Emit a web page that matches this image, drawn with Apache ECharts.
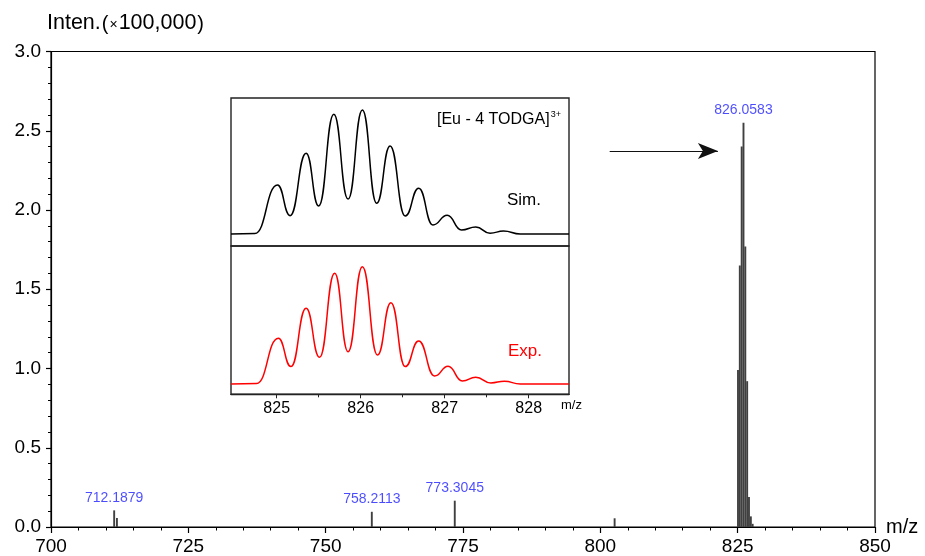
<!DOCTYPE html>
<html><head><meta charset="utf-8">
<script src="https://cdn.jsdelivr.net/npm/echarts@6/dist/echarts.min.js"></script>
<style>html,body{margin:0;padding:0;background:#fff}#c{width:925px;height:556px}</style>
</head><body><div id="c"></div>
<script>
// Main stick spectrum (m/z, intensity x100,000)
const stickMz  = [711.5, 712.0, 758.4, 773.5, 802.6, 825.06, 825.39, 825.73, 826.06, 826.39, 826.73, 827.06, 827.40, 827.73];
const stickInt = [0.105, 0.057, 0.096, 0.166, 0.055, 0.99, 1.65, 2.40, 2.55, 1.77, 0.92, 0.19, 0.067, 0.02];
// Peak annotations
const peakLabels   = ['712.1879', '758.2113', '773.3045', '826.0583'];
const peakLabelMz  = [711.5, 758.4, 773.5, 826.06];
const peakLabelInt = [0.105, 0.096, 0.166, 2.55];
// Inset: simulated isotope pattern (relative %), maxima/minima
const simMz  = [824.456, 824.74, 825.01, 825.16, 825.35, 825.50, 825.68, 825.85, 826.02, 826.19, 826.35, 826.53, 826.69, 826.86, 827.03, 827.20, 827.37, 827.54, 827.70, 827.90, 828.48];
const simInt = [0, 0.4, 39.5, 14.8, 65.1, 22.6, 96.5, 28.2, 100, 24.8, 71.0, 14.5, 36.9, 7.3, 15.1, 3.2, 5.6, 0.6, 2.4, 0, 0];
// Inset: experimental isotope pattern (relative %)
const expMz  = [824.456, 824.76, 825.02, 825.17, 825.35, 825.51, 825.69, 825.85, 826.02, 826.20, 826.36, 826.53, 826.69, 826.88, 827.04, 827.21, 827.37, 827.55, 827.71, 827.90, 828.48];
const expInt = [0, 0.4, 39.0, 14.8, 64.5, 22.8, 94.4, 27.5, 100, 24.7, 69.3, 14.8, 36.7, 6.8, 15.1, 2.6, 5.7, 0.9, 2.3, 0, 0];
// Inset axis ticks
const insetMajor = [825, 826, 827, 828];
const insetMinor = [825.5, 826.5, 827.5];
// Arrow (data coords of main plot)
const arrowFrom = [801.7, 2.373];
const arrowTo   = [821.4, 2.373];

const FONT = 'Liberation Sans, Arial, sans-serif';
const chart = echarts.init(document.getElementById('c'), null, {renderer: 'canvas'});

const option = {
  animation: false,
  backgroundColor: '#fff',
  textStyle: {fontFamily: FONT},
  grid: [
    {left: 51, right: 50, top: 51.5, bottom: 28.7, show: true, borderColor: '#000', borderWidth: 1.2},
    {left: 231, top: 98, width: 338, height: 148, show: true, borderColor: '#222', borderWidth: 1.4},
    {left: 231, top: 246, width: 338, height: 148.3, show: true, borderColor: '#222', borderWidth: 1.4}
  ],
  xAxis: [
    {gridIndex: 0, type: 'value', min: 700, max: 850, interval: 25,
     axisLine: {show: true, onZero: false, lineStyle: {color: '#000', width: 1.2}},
     axisTick: {show: true, length: 6, lineStyle: {color: '#000', width: 1.2}},
     minorTick: {show: true, splitNumber: 5, length: 3.5, lineStyle: {color: '#000', width: 1}},
     axisLabel: {fontSize: 19, color: '#000', margin: 10, fontFamily: FONT},
     splitLine: {show: false},
     name: 'm/z', nameLocation: 'end', nameGap: 11,
     nameTextStyle: {fontSize: 20, color: '#000', fontFamily: FONT}},
    {gridIndex: 1, type: 'value', min: 824.456, max: 828.48, show: false},
    {gridIndex: 2, type: 'value', min: 824.456, max: 828.48, position: 'bottom',
     axisLine: {show: true, onZero: false, lineStyle: {color: '#222', width: 1.4}},
     axisTick: {show: true, length: 4, customValues: insetMajor, lineStyle: {color: '#222', width: 1}},
     axisLabel: {show: true, customValues: insetMajor, fontSize: 16, color: '#000', margin: 6, fontFamily: FONT},
     splitLine: {show: false}},
    {gridIndex: 2, type: 'value', min: 824.456, max: 828.48, position: 'bottom',
     axisLine: {show: false, onZero: false},
     axisTick: {show: true, length: 3, customValues: insetMinor, lineStyle: {color: '#222', width: 1}},
     axisLabel: {show: false},
     splitLine: {show: false}}
  ],
  yAxis: [
    {gridIndex: 0, type: 'value', min: 0, max: 3, interval: 0.5,
     axisLine: {show: true, onZero: false, lineStyle: {color: '#000', width: 1.2}},
     axisTick: {show: true, length: 5, lineStyle: {color: '#000', width: 1.2}},
     minorTick: {show: true, splitNumber: 5, length: 3, lineStyle: {color: '#000', width: 1}},
     axisLabel: {fontSize: 19, color: '#000', margin: 10, fontFamily: FONT, formatter: v => v.toFixed(1)},
     splitLine: {show: false}},
    {gridIndex: 1, type: 'value', min: -9.7, max: 109.7, show: false},
    {gridIndex: 2, type: 'value', min: -8.8, max: 117.6, show: false}
  ],
  series: [
    {type: 'custom', xAxisIndex: 0, yAxisIndex: 0,
     data: stickMz.map((m, i) => [m, stickInt[i]]),
     renderItem: (params, api) => {
       const p0 = api.coord([api.value(0), 0]);
       const p1 = api.coord([api.value(0), api.value(1)]);
       return {type: 'line', shape: {x1: p0[0], y1: p0[1], x2: p1[0], y2: p1[1]},
               style: {stroke: '#404040', lineWidth: 1.9}};
     }},
    {type: 'scatter', xAxisIndex: 0, yAxisIndex: 0, symbolSize: 1,
     itemStyle: {color: 'rgba(0,0,0,0)'},
     data: peakLabelMz.map((m, i) => ({value: [m, peakLabelInt[i]], name: peakLabels[i]})),
     label: {show: true, position: 'top', distance: 5, formatter: '{b}', color: '#1f1fff', fontSize: 14, fontFamily: FONT},
     markLine: {silent: true, symbol: ['none', 'arrow'], symbolSize: [12, 20],
       lineStyle: {color: '#111', width: 1, type: 'solid'}, label: {show: false},
       data: [[{coord: arrowFrom}, {coord: arrowTo}]]}},
    {type: 'line', xAxisIndex: 1, yAxisIndex: 1, showSymbol: false, smooth: 0.5, smoothMonotone: 'x',
     data: simMz.map((m, i) => [m, simInt[i]]),
     lineStyle: {color: '#000', width: 1.5}},
    {type: 'line', xAxisIndex: 2, yAxisIndex: 2, showSymbol: false, smooth: 0.5, smoothMonotone: 'x',
     data: expMz.map((m, i) => [m, expInt[i]]),
     lineStyle: {color: '#ff0000', width: 1.5}}
  ],
  graphic: [
    {type: 'text', left: 47, top: 12, style: {
      text: '{a|Inten.}{b|(}{c|×}{a|100,000}{b|)}',
      rich: {
        a: {fontSize: 21.5, fill: '#000', fontFamily: FONT, verticalAlign: 'bottom'},
        b: {fontSize: 20, fill: '#000', fontFamily: FONT, verticalAlign: 'bottom', padding: [0, 1, 0, 1]},
        c: {fontSize: 14, fill: '#000', fontFamily: FONT, verticalAlign: 'bottom', padding: [0, 1, 2, 0]}
      }}},
    {type: 'text', left: 437, top: 110, style: {
      text: '{n|[Eu - 4 TODGA]}{s|3+}',
      rich: {
        n: {fontSize: 16, fill: '#000', fontFamily: FONT, lineHeight: 18, verticalAlign: 'bottom'},
        s: {fontSize: 9, fill: '#000', fontFamily: FONT, verticalAlign: 'top', padding: [0, 0, 0, 1]}
      }}},
    {type: 'text', left: 507, top: 192, style: {text: 'Sim.', fontSize: 17, fill: '#000', fontFamily: FONT}},
    {type: 'text', left: 508, top: 343, style: {text: 'Exp.', fontSize: 17, fill: '#ff0000', fontFamily: FONT}},
    {type: 'text', left: 561, top: 399, style: {text: 'm/z', fontSize: 13, fill: '#000', fontFamily: FONT}}
  ]
};
chart.setOption(option);
</script></body></html>
